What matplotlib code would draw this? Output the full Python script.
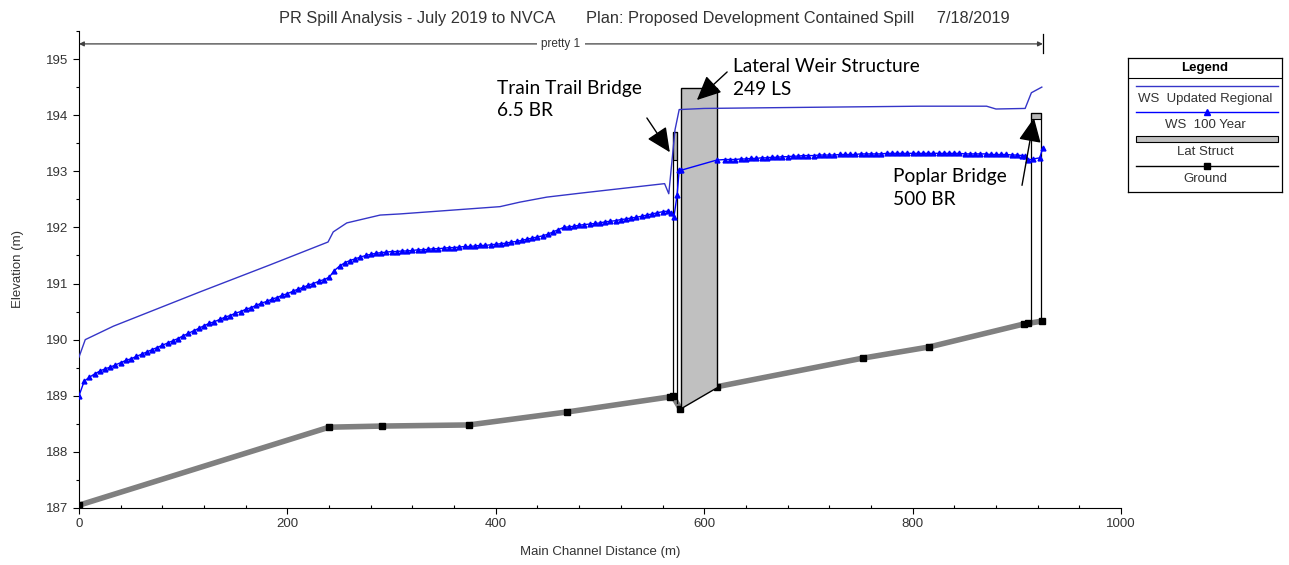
import numpy as np
import matplotlib
matplotlib.use('Agg')
import matplotlib.pyplot as plt
from matplotlib.patches import Polygon, Rectangle
from matplotlib.lines import Line2D

plt.rcParams.update({'font.family': ['Liberation Sans', 'DejaVu Sans'], 'font.size': 9})
NOTE_FONT = ['Lato', 'DejaVu Sans']

TITLE = ('PR Spill Analysis - July 2019 to NVCA       '
         'Plan: Proposed Development Contained Spill     7/18/2019')

# ground profile (station m, elevation m)
ground_x = [0, 240, 291, 374, 468, 567, 570, 577, 612, 752, 816, 907, 911, 924]
ground_z = [187.05, 188.44, 188.46, 188.48, 188.71, 188.98, 188.99, 188.77, 189.16,
            189.67, 189.87, 190.28, 190.29, 190.33]

# WS Updated Regional
reg_x = [0, 6, 33, 116, 183, 239, 244, 257, 289, 308, 404, 423, 449, 481, 500, 562,
         566, 572, 576, 600, 700, 807, 871, 880, 908, 914, 924]
reg_z = [189.69, 190.00, 190.24, 190.85, 191.33, 191.74, 191.92, 192.08, 192.22, 192.24,
         192.37, 192.45, 192.54, 192.61, 192.65, 192.78, 192.60, 193.74, 194.10, 194.12,
         194.14, 194.16, 194.16, 194.11, 194.12, 194.40, 194.50]

# WS 100 Year, one value per cross section
y100_x = [0, 5, 10, 15, 20, 25, 30, 35, 40, 45, 50, 55, 60, 65, 70, 75, 80, 85, 90, 95,
          100, 105, 110, 115, 120, 125, 130, 135, 140, 145, 150, 155, 160, 165, 170, 175,
          180, 185, 190, 195, 200, 205, 210, 215, 220, 225, 230, 235, 240, 245, 250, 255,
          260, 265, 270, 275, 280, 285, 290, 295, 300, 305, 310, 315, 320, 325, 330, 335,
          340, 345, 350, 355, 360, 365, 370, 375, 380, 385, 390, 395, 400, 405, 410, 415,
          420, 425, 430, 435, 440, 445, 450, 455, 460, 465, 470, 475, 480, 485, 490, 495,
          500, 505, 510, 515, 520, 525, 530, 535, 540, 545, 550, 555, 560, 565, 568, 571,
          574, 576, 578, 612, 620, 625, 630, 635, 640, 645, 650, 655, 660, 665, 670, 675,
          680, 685, 690, 695, 700, 705, 710, 715, 720, 725, 730, 735, 740, 745, 750, 755,
          760, 765, 770, 775, 780, 785, 790, 795, 800, 805, 810, 815, 820, 825, 830, 835,
          840, 845, 850, 855, 860, 865, 870, 875, 880, 885, 890, 895, 900, 905, 908, 911,
          916, 922, 925]
y100_z = [189.00, 189.26, 189.33, 189.39, 189.44, 189.48, 189.51, 189.55, 189.59, 189.63,
          189.66, 189.70, 189.74, 189.78, 189.82, 189.86, 189.90, 189.94, 189.98, 190.02,
          190.07, 190.11, 190.16, 190.20, 190.25, 190.29, 190.32, 190.36, 190.40, 190.43,
          190.47, 190.50, 190.54, 190.57, 190.61, 190.65, 190.68, 190.72, 190.75, 190.79,
          190.82, 190.86, 190.90, 190.93, 190.97, 191.00, 191.04, 191.07, 191.11, 191.23,
          191.31, 191.37, 191.41, 191.44, 191.47, 191.50, 191.52, 191.54, 191.55, 191.56,
          191.57, 191.57, 191.58, 191.58, 191.59, 191.60, 191.60, 191.61, 191.62, 191.62,
          191.63, 191.64, 191.64, 191.65, 191.66, 191.66, 191.67, 191.68, 191.68, 191.69,
          191.70, 191.71, 191.72, 191.74, 191.75, 191.77, 191.79, 191.81, 191.83, 191.85,
          191.88, 191.92, 191.96, 192.00, 192.01, 192.02, 192.04, 192.05, 192.06, 192.07,
          192.08, 192.10, 192.11, 192.12, 192.14, 192.15, 192.17, 192.18, 192.20, 192.22,
          192.24, 192.26, 192.28, 192.29, 192.26, 192.19, 192.58, 193.02, 193.02, 193.20,
          193.21, 193.21, 193.21, 193.22, 193.22, 193.23, 193.23, 193.24, 193.24, 193.25,
          193.25, 193.26, 193.26, 193.27, 193.27, 193.28, 193.28, 193.28, 193.29, 193.29,
          193.29, 193.29, 193.30, 193.30, 193.30, 193.30, 193.31, 193.31, 193.31, 193.31,
          193.31, 193.32, 193.32, 193.32, 193.32, 193.32, 193.32, 193.32, 193.32, 193.32,
          193.32, 193.32, 193.32, 193.32, 193.32, 193.32, 193.31, 193.31, 193.31, 193.31,
          193.31, 193.30, 193.30, 193.30, 193.30, 193.29, 193.29, 193.28, 193.27, 193.20,
          193.22, 193.24, 193.42]

# lateral weir (station range, crest)
weir_x = [578, 612]
weir_top = 194.48
# bridges: (left station, right station, low chord, high chord)
train_bridge = [570.5, 574.0, 193.20, 193.70]
poplar_bridge = [913.6, 923.0, 193.93, 194.04]
reach_end = 925

fig = plt.figure(figsize=(12.89, 5.65), dpi=100)
ax = fig.add_axes([79 / 1289, 1 - 508 / 565, 1042 / 1289, 477 / 565])

gx = np.array(ground_x, float)
gz = np.array(ground_z, float)
for m in (gx <= weir_x[0] - 1, gx >= weir_x[1]):
    ax.plot(gx[m], gz[m], color='#808080', lw=4, solid_capstyle='butt', zorder=2)
ax.plot(gx, gz, ls='none', marker='s', ms=4.5, color='black', zorder=3)

# lateral weir block, bottom follows the ground
wz0 = np.interp(weir_x[0], gx, gz)
wz1 = np.interp(weir_x[1], gx, gz)
ax.add_patch(Polygon([(weir_x[0], wz0), (weir_x[0], weir_top), (weir_x[1], weir_top),
                      (weir_x[1], wz1)], closed=True, fc='#c0c0c0', ec='black', lw=1, zorder=4))

# bridges drawn as thin outlined sections with a grey deck
for x0, x1, lo, hi in (train_bridge, poplar_bridge):
    z0 = np.interp(x0, gx, gz)
    z1 = np.interp(x1, gx, gz)
    ax.add_patch(Rectangle((x0, lo), x1 - x0, hi - lo, fc='#b8b8b8', ec='black', lw=0.8, zorder=4))
    ax.plot([x0, x0, x1, x1], [z0, hi, hi, z1], color='black', lw=0.9, zorder=4)

ax.plot(reg_x, reg_z, color='#3535c8', lw=1.0, zorder=5)
ax.plot(y100_x, y100_z, color='#0000ff', lw=1.0, marker='^', ms=3.5, mec='#0000ff', zorder=5)

ax.set_xlim(0, 1000)
ax.set_ylim(187, 195.5)
ax.set_xticks(np.arange(0, 1001, 200))
ax.set_xticks(np.arange(0, 1001, 40), minor=True)
ax.set_yticks(np.arange(187, 196, 1))
ax.set_yticks(np.arange(187, 195.6, 0.5), minor=True)
for s in ('top', 'right'):
    ax.spines[s].set_visible(False)
ax.tick_params(which='major', length=4, width=0.8, color='black', labelcolor='#333333', labelsize=9.5)
ax.tick_params(which='minor', length=2.5, width=0.8, color='black')
ax.tick_params(axis='x', which='minor', direction='in')
ax.set_xlabel('Main Channel Distance (m)', fontsize=9.5, color='#333333', labelpad=11)
ax.set_ylabel('Elevation (m)', fontsize=9.5, color='#333333', labelpad=16)

fig.text(0.5, 1 - 18 / 565, TITLE, ha='center', va='center', fontsize=11.8, color='#333333')

# reach extent arrow
ax.annotate('', xy=(0, 195.27), xytext=(reach_end, 195.27), annotation_clip=False,
            arrowprops=dict(arrowstyle='<|-|>', mutation_scale=7, color='#404040', lw=0.9,
                            shrinkA=0, shrinkB=0))
ax.plot([reach_end, reach_end], [195.1, 195.45], color='black', lw=0.9, clip_on=False)
ax.text(reach_end / 2, 195.27, 'pretty 1', ha='center', va='center', fontsize=8.5,
        color='#333333', bbox=dict(fc='white', ec='none', pad=3))

# structure call-outs
arrow = dict(arrowstyle='-|>,head_length=0.6,head_width=0.28', mutation_scale=25,
             color='black', lw=1.0, shrinkA=0, shrinkB=0)
note = dict(ha='left', va='top', fontsize=13.8, family=NOTE_FONT, linespacing=1.4, zorder=6)
ax.annotate('', xy=(567, 193.34), xytext=(545, 193.95), arrowprops=arrow, zorder=6)
ax.text(401, 194.63, 'Train Trail Bridge\n6.5 BR', **note)
ax.annotate('', xy=(593, 194.27), xytext=(622, 194.77), arrowprops=arrow, zorder=6)
ax.text(628, 195.02, 'Lateral Weir Structure\n249 LS', **note)
ax.annotate('', xy=(916.5, 193.95), xytext=(905, 192.75), arrowprops=arrow, zorder=6)
ax.text(781, 193.05, 'Poplar Bridge\n500 BR', **note)

# legend panel
lg = fig.add_axes([1128 / 1289, 1 - 192 / 565, 154 / 1289, 134 / 565])
lg.set_xlim(0, 154)
lg.set_ylim(134, 0)
lg.set_xticks([])
lg.set_yticks([])
for s in lg.spines.values():
    s.set_linewidth(0.9)
lg.text(77, 10, 'Legend', ha='center', va='center', fontsize=9.5, fontweight='bold')
lg.plot([0, 154], [20, 20], color='black', lw=0.8)
lg.add_line(Line2D([8, 150], [28, 28], color='#3535c8', lw=1.0))
lg.text(77, 41, 'WS  Updated Regional', ha='center', va='center', fontsize=9.5, color='#333333')
lg.add_line(Line2D([8, 150], [54, 54], color='#0000ff', lw=1.0))
lg.plot([79], [54], marker='^', ms=4, color='#0000ff')
lg.text(77, 67, 'WS  100 Year', ha='center', va='center', fontsize=9.5, color='#333333')
lg.add_patch(Rectangle((8, 78), 142, 6, fc='#c0c0c0', ec='black', lw=0.8))
lg.text(77, 94, 'Lat Struct', ha='center', va='center', fontsize=9.5, color='#333333')
lg.add_line(Line2D([8, 150], [108, 108], color='black', lw=1.0))
lg.plot([79], [108], marker='s', ms=4.5, color='black')
lg.text(77, 121, 'Ground', ha='center', va='center', fontsize=9.5, color='#333333')

fig.savefig('out.png', dpi=100)
